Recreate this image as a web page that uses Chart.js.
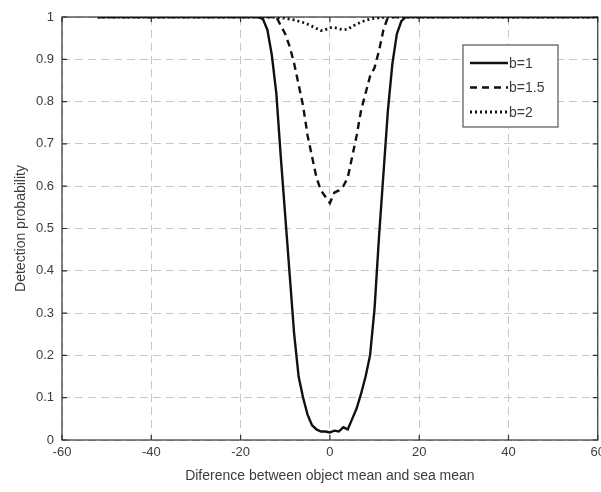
<!DOCTYPE html>
<html>
<head>
<meta charset="utf-8">
<script src="https://cdn.jsdelivr.net/npm/chart.js@4.4.1/dist/chart.umd.min.js"></script>
<style>
  html, body { margin: 0; padding: 0; background: #fff; overflow: hidden; }
  #wrap { width: 601px; height: 492px; overflow: hidden; }
</style>
</head>
<body>
<div id="wrap"><canvas id="myChart" width="610" height="492"></canvas></div>
<script>
// values
const xValues = [-52, -16, -15, -14, -13, -12, -11, -10, -9, -8, -7, -6, -5, -4, -3, -2, -1,
  0, 1, 2, 3, 4, 5, 6, 7, 8, 9, 10, 11, 12, 13, 14, 15, 16, 17, 18, 60];

const b1 = [1, 1, 0.995, 0.97, 0.91, 0.82, 0.67, 0.53, 0.39, 0.25, 0.15, 0.1, 0.06, 0.035, 0.025, 0.02, 0.02,
  0.018, 0.022, 0.02, 0.03, 0.025, 0.05, 0.075, 0.11, 0.15, 0.2, 0.31, 0.48, 0.63, 0.78, 0.89, 0.96, 0.99, 1, 1, 1];

const b15 = [1, 1, 1, 1, 1, 1, 0.98, 0.96, 0.93, 0.89, 0.84, 0.79, 0.72, 0.67, 0.62, 0.59, 0.575,
  0.56, 0.585, 0.59, 0.6, 0.62, 0.67, 0.72, 0.78, 0.82, 0.86, 0.88, 0.92, 0.97, 1, 1, 1, 1, 1, 1, 1];

const b2 = [1, 1, 1, 1, 1, 0.999, 0.998, 0.997, 0.995, 0.993, 0.99, 0.987, 0.983, 0.978, 0.973, 0.968, 0.97,
  0.975, 0.975, 0.972, 0.97, 0.971, 0.978, 0.983, 0.988, 0.992, 0.995, 0.997, 0.998, 0.999, 1, 1, 1, 1, 1, 1, 1];

const seriesNames = ["b=1", "b=1.5", "b=2"];
const xTickLabels = ["-60", "-40", "-20", "0", "20", "40", "60"];
const yTickLabels = ["0", "0.1", "0.2", "0.3", "0.4", "0.5", "0.6", "0.7", "0.8", "0.9", "1"];

const fontFamily = "'Liberation Sans', Arial, sans-serif";
const textColor = "#3c3c3c";

function toPoints(ys) {
  return xValues.map((x, i) => ({ x: x, y: ys[i] }));
}

// box round the axes, like matlab does it
const frame = {
  id: "frame",
  beforeDatasetsDraw(chart) {
    const { ctx, chartArea: a, scales } = chart;
    ctx.save();
    ctx.strokeStyle = "#333";
    ctx.lineWidth = 1.2;
    ctx.strokeRect(a.left, a.top, a.right - a.left, a.bottom - a.top);
    // small inward ticks
    ctx.beginPath();
    scales.x.ticks.forEach((t) => {
      const px = scales.x.getPixelForValue(t.value);
      ctx.moveTo(px, a.bottom); ctx.lineTo(px, a.bottom - 5);
      ctx.moveTo(px, a.top); ctx.lineTo(px, a.top + 5);
    });
    scales.y.ticks.forEach((t) => {
      const py = scales.y.getPixelForValue(t.value);
      ctx.moveTo(a.left, py); ctx.lineTo(a.left + 5, py);
      ctx.moveTo(a.right, py); ctx.lineTo(a.right - 5, py);
    });
    ctx.stroke();
    ctx.restore();
  },
};

// legend box inside the plot (top right)
const boxLegend = {
  id: "boxLegend",
  afterDraw(chart) {
    const ctx = chart.ctx;
    const x0 = 463, y0 = 45, w = 95, h = 82;
    ctx.save();
    ctx.fillStyle = "#fff";
    ctx.fillRect(x0, y0, w, h);
    ctx.strokeStyle = "#555";
    ctx.lineWidth = 1.2;
    ctx.strokeRect(x0, y0, w, h);
    ctx.font = "14px " + fontFamily;
    ctx.textBaseline = "middle";
    chart.data.datasets.forEach((ds, i) => {
      const yy = y0 + 18 + i * 24.5;
      ctx.beginPath();
      ctx.setLineDash(ds.borderDash || []);
      ctx.lineWidth = ds.borderWidth;
      ctx.strokeStyle = ds.borderColor;
      ctx.moveTo(x0 + 7, yy);
      ctx.lineTo(x0 + 45, yy);
      ctx.stroke();
      ctx.setLineDash([]);
      ctx.fillStyle = textColor;
      ctx.fillText(ds.label, x0 + 46, yy + 1);
    });
    ctx.restore();
  },
};

let ctx = document.getElementById("myChart").getContext("2d");
let myChart = new Chart(ctx, {
  type: "line",
  data: {
    datasets: [
      {
        label: seriesNames[0],
        data: toPoints(b1),
        borderColor: "#111",
        borderWidth: 2.4,
      },
      {
        label: seriesNames[1],
        data: toPoints(b15),
        borderColor: "#111",
        borderWidth: 2.4,
        borderDash: [7, 5],
      },
      {
        label: seriesNames[2],
        data: toPoints(b2),
        borderColor: "#111",
        borderWidth: 2.8,
        borderDash: [2, 3],
      },
    ],
  },
  options: {
    responsive: false,
    animation: false,
    layout: { padding: { top: 17, left: 0, right: 0, bottom: 0 } },
    elements: { point: { radius: 0 }, line: { tension: 0, fill: false } },
    plugins: { legend: { display: false }, tooltip: { enabled: false } },
    scales: {
      x: {
        type: "linear",
        min: -60,
        max: 60,
        afterFit: (s) => { s.height = 52; },
        ticks: {
          stepSize: 20,
          padding: 5,
          color: textColor,
          font: { size: 13, family: fontFamily },
          maxRotation: 0,
          callback: (v, i) => xTickLabels[i],
        },
        grid: { color: "#c8c8c8", lineWidth: 1, drawTicks: false },
        border: { display: false, dash: [8, 5] },
        title: {
          display: true,
          text: "Diference between object mean and sea mean",
          color: textColor,
          font: { size: 14, family: fontFamily },
          padding: { top: 0, bottom: 7 },
        },
      },
      y: {
        min: 0,
        max: 1,
        afterFit: (s) => { s.width = 62; },
        ticks: {
          stepSize: 0.1,
          padding: 8,
          color: textColor,
          font: { size: 13, family: fontFamily },
          callback: (v, i) => yTickLabels[i],
        },
        grid: { color: "#c8c8c8", lineWidth: 1, drawTicks: false },
        border: { display: false, dash: [8, 5] },
        title: {
          display: true,
          text: "Detection probability",
          color: textColor,
          font: { size: 14, family: fontFamily },
          padding: { top: 13, bottom: 0 },
        },
      },
    },
  },
  plugins: [frame, boxLegend],
});
</script>
</body>
</html>
